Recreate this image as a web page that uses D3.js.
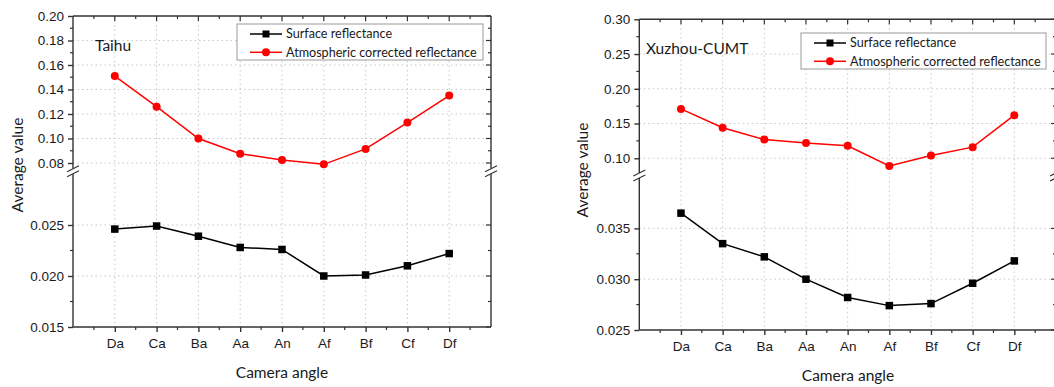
<!DOCTYPE html>
<html><head><meta charset="utf-8">
<script src="https://cdn.jsdelivr.net/npm/d3@7"></script>
<style>
html,body{margin:0;padding:0;background:#fff;}
svg{display:block;font-family:Lato, "Open Sans", sans-serif;}
</style></head>
<body>
<svg id="chart" width="1054" height="387"></svg>
<script>
// ---------- data ----------
const categories = ["Da","Ca","Ba","Aa","An","Af","Bf","Cf","Df"];
const seriesNames = ["Surface reflectance","Atmospheric corrected reflectance"];

const taihuSurface = [0.0246,0.0249,0.0239,0.0228,0.0226,0.0200,0.0201,0.0210,0.0222];
const taihuAtmos   = [0.151,0.126,0.100,0.0876,0.0824,0.0789,0.0915,0.113,0.135];

const xuzhouSurface = [0.0365,0.0335,0.0322,0.0300,0.0282,0.0274,0.0276,0.0296,0.0318];
const xuzhouAtmos   = [0.171,0.144,0.127,0.122,0.118,0.089,0.104,0.116,0.162];

const taihuUpperTicks = [0.08,0.10,0.12,0.14,0.16,0.18,0.20];
const taihuLowerTicks = [0.015,0.020,0.025];
const xuzhouUpperTicks = [0.10,0.15,0.20,0.25,0.30];
const xuzhouLowerTicks = [0.025,0.030,0.035];

// ---------- drawing ----------
const svg = d3.select("#chart");
const AXIS = "#333";
const RED = "#ff0000";
const TXT = "#1a1a1a";

function midpoints(t){ const m=[]; for(let i=0;i<t.length-1;i++) m.push((t[i]+t[i+1])/2); return m; }

function drawPanel(cfg){
  const g = svg.append("g");
  const x = d3.scaleLinear().domain([0,10]).range([cfg.left,cfg.right]);
  const yU = d3.scaleLinear().domain(cfg.upperDomain).range([cfg.breakTop,cfg.top]);
  const yL = d3.scaleLinear().domain(cfg.lowerDomain).range([cfg.bottom,cfg.breakBottom]);
  const cx = categories.map((c,i)=>i+1);

  // grid
  const grid = g.append("g").attr("stroke","#c8c8c8").attr("stroke-width",1).attr("stroke-dasharray","1.5,3");
  cx.forEach(v=>grid.append("line").attr("x1",x(v)).attr("x2",x(v)).attr("y1",cfg.top).attr("y2",cfg.bottom));
  cfg.upperTicks.forEach(v=>{ const y=yU(v); if(Math.abs(y-cfg.top)>1) grid.append("line").attr("x1",cfg.left).attr("x2",cfg.right).attr("y1",y).attr("y2",y);});
  cfg.lowerTicks.forEach(v=>{ const y=yL(v); if(Math.abs(y-cfg.bottom)>1) grid.append("line").attr("x1",cfg.left).attr("x2",cfg.right).attr("y1",y).attr("y2",y);});

  // frame
  const fr = g.append("g").attr("stroke",AXIS).attr("stroke-width",1.4).attr("fill","none");
  fr.append("line").attr("x1",cfg.left).attr("x2",cfg.right).attr("y1",cfg.top).attr("y2",cfg.top);
  fr.append("line").attr("x1",cfg.left).attr("x2",cfg.right).attr("y1",cfg.bottom).attr("y2",cfg.bottom);
  [cfg.left,cfg.right].forEach(xx=>{
    fr.append("line").attr("x1",xx).attr("x2",xx).attr("y1",cfg.top).attr("y2",cfg.breakTop);
    fr.append("line").attr("x1",xx).attr("x2",xx).attr("y1",cfg.breakBottom).attr("y2",cfg.bottom);
    const bm=(cfg.breakTop+cfg.breakBottom)/2;
    [-2.5,2.5].forEach(o=>fr.append("line").attr("x1",xx-6).attr("x2",xx+6).attr("y1",bm+o+3).attr("y2",bm+o-3).attr("stroke-width",1.2));
  });

  // left axis (ticks outward) + labels
  const lax = g.append("g");
  const upperAxis = d3.axisLeft(yU).tickValues(cfg.upperTicks).tickSize(5).tickFormat(d3.format(cfg.upperFmt));
  const lowerAxis = d3.axisLeft(yL).tickValues(cfg.lowerTicks).tickSize(5).tickFormat(d3.format(cfg.lowerFmt));
  [upperAxis,lowerAxis].forEach(ax=>{
    const a = lax.append("g").attr("transform",`translate(${cfg.left},0)`).call(ax);
    a.select(".domain").remove();
    a.selectAll("line").attr("stroke",AXIS).attr("stroke-width",1.4);
    a.selectAll("text").attr("font-size",13.5).attr("fill",TXT).attr("dx","-1");
  });
  const minorU = midpoints(cfg.upperTicks), minorL = midpoints(cfg.lowerTicks);
  const mt = g.append("g").attr("stroke",AXIS).attr("stroke-width",1.2);
  minorU.forEach(v=>{ mt.append("line").attr("x1",cfg.left-3).attr("x2",cfg.left).attr("y1",yU(v)).attr("y2",yU(v)); });
  minorL.forEach(v=>{ mt.append("line").attr("x1",cfg.left-3).attr("x2",cfg.left).attr("y1",yL(v)).attr("y2",yL(v)); });
  // right axis ticks (inward)
  cfg.upperTicks.forEach(v=>mt.append("line").attr("x1",cfg.right-5).attr("x2",cfg.right).attr("y1",yU(v)).attr("y2",yU(v)));
  cfg.lowerTicks.forEach(v=>mt.append("line").attr("x1",cfg.right-5).attr("x2",cfg.right).attr("y1",yL(v)).attr("y2",yL(v)));
  minorU.forEach(v=>mt.append("line").attr("x1",cfg.right-3).attr("x2",cfg.right).attr("y1",yU(v)).attr("y2",yU(v)));
  minorL.forEach(v=>mt.append("line").attr("x1",cfg.right-3).attr("x2",cfg.right).attr("y1",yL(v)).attr("y2",yL(v)));

  // bottom axis (outward) with category labels
  const bx = g.append("g").attr("transform",`translate(0,${cfg.bottom})`)
    .call(d3.axisBottom(x).tickValues(cx).tickSize(5).tickFormat((d,i)=>categories[i]));
  bx.select(".domain").remove();
  bx.selectAll("line").attr("stroke",AXIS).attr("stroke-width",1.4);
  bx.selectAll("text").attr("font-size",13.5).attr("fill",TXT).attr("dy","0.95em");
  const xMinor = d3.range(0.5,10,1);
  xMinor.forEach(v=>{
    mt.append("line").attr("x1",x(v)).attr("x2",x(v)).attr("y1",cfg.bottom).attr("y2",cfg.bottom+3);
    mt.append("line").attr("x1",x(v)).attr("x2",x(v)).attr("y1",cfg.top).attr("y2",cfg.top+3);
  });
  cx.forEach(v=>mt.append("line").attr("x1",x(v)).attr("x2",x(v)).attr("y1",cfg.top).attr("y2",cfg.top+5));

  // series
  const lineU = d3.line().x((d,i)=>x(i+1)).y(d=>yU(d));
  const lineL = d3.line().x((d,i)=>x(i+1)).y(d=>yL(d));
  g.append("path").datum(cfg.atmos).attr("d",lineU).attr("fill","none").attr("stroke",RED).attr("stroke-width",1.5);
  g.selectAll(".pa"+cfg.id).data(cfg.atmos).enter().append("circle")
    .attr("cx",(d,i)=>x(i+1)).attr("cy",d=>yU(d)).attr("r",4).attr("fill",RED);
  g.append("path").datum(cfg.surface).attr("d",lineL).attr("fill","none").attr("stroke","#000").attr("stroke-width",1.5);
  g.selectAll(".ps"+cfg.id).data(cfg.surface).enter().append("rect")
    .attr("x",(d,i)=>x(i+1)-3.75).attr("y",d=>yL(d)-3.75).attr("width",7.5).attr("height",7.5).attr("fill","#000");

  // title label
  g.append("text").attr("x",cfg.titleX).attr("y",cfg.titleY).attr("font-size",15.5).attr("fill",TXT).text(cfg.title);

  // legend
  const L = cfg.legend;
  const lg = g.append("g");
  lg.append("rect").attr("x",L.x).attr("y",L.y).attr("width",L.w).attr("height",L.h)
    .attr("fill","#fff").attr("stroke","#999").attr("stroke-width",1);
  const rows = [{c:"#000",shape:"rect"},{c:RED,shape:"circle"}];
  rows.forEach((r,i)=>{
    const yy = L.y + 10 + i*18.3;
    lg.append("line").attr("x1",L.x+13).attr("x2",L.x+45).attr("y1",yy).attr("y2",yy).attr("stroke",r.c).attr("stroke-width",1.5);
    if(r.shape==="rect") lg.append("rect").attr("x",L.x+29-3.5).attr("y",yy-3.5).attr("width",7).attr("height",7).attr("fill",r.c);
    else lg.append("circle").attr("cx",L.x+29).attr("cy",yy).attr("r",4).attr("fill",r.c);
    lg.append("text").attr("x",L.x+49).attr("y",yy).attr("dy","0.35em").attr("font-size",12.6).attr("fill",TXT).text(seriesNames[i]);
  });

  // axis titles
  g.append("text").attr("transform",`translate(${cfg.yTitleX},${cfg.yTitleY}) rotate(-90)`)
    .attr("text-anchor","middle").attr("font-size",15.5).attr("fill",TXT).text("Average value");
  g.append("text").attr("x",cfg.xTitleX).attr("y",cfg.xTitleY).attr("text-anchor","middle")
    .attr("font-size",15.5).attr("fill",TXT).text("Camera angle");
}

drawPanel({
  id:"t", title:"Taihu", titleX:95, titleY:51,
  left:73, right:491, top:16, bottom:327, breakTop:168.5, breakBottom:174,
  upperDomain:[0.0755,0.20], lowerDomain:[0.015,0.030],
  upperTicks:taihuUpperTicks, lowerTicks:taihuLowerTicks, upperFmt:".2f", lowerFmt:".3f",
  surface:taihuSurface, atmos:taihuAtmos,
  legend:{x:237,y:24,w:246,h:36},
  yTitleX:23, yTitleY:165, xTitleX:282, xTitleY:378
});
drawPanel({
  id:"x", title:"Xuzhou-CUMT", titleX:646, titleY:54,
  left:639.3, right:1056, top:19.3, bottom:330, breakTop:173, breakBottom:178,
  upperDomain:[0.0788,0.30], lowerDomain:[0.025,0.03996],
  upperTicks:xuzhouUpperTicks, lowerTicks:xuzhouLowerTicks, upperFmt:".2f", lowerFmt:".3f",
  surface:xuzhouSurface, atmos:xuzhouAtmos,
  legend:{x:801,y:33,w:245,h:36},
  yTitleX:588, yTitleY:170, xTitleX:848, xTitleY:381
});
</script>
</body></html>
